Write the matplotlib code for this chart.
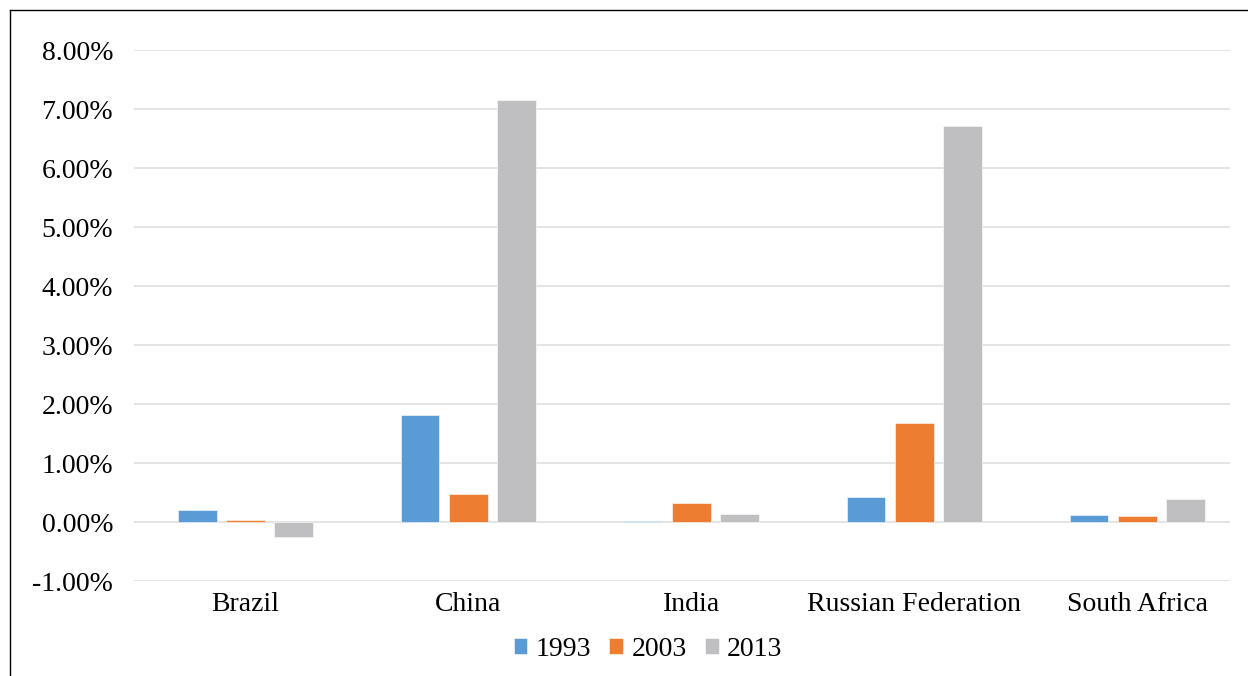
import numpy as np
import matplotlib
matplotlib.use('Agg')
import matplotlib.pyplot as plt
from matplotlib.ticker import FuncFormatter

countries = ['Brazil', 'China', 'India', 'Russian Federation', 'South Africa']
years = ['1993', '2003', '2013']
v1993 = [0.20, 1.82, 0.02, 0.42, 0.12]
v2003 = [0.04, 0.48, 0.32, 1.67, 0.11]
v2013 = [-0.26, 7.15, 0.13, 6.72, 0.39]
colors = ['#5B9BD5', '#ED7D31', '#BFBFC1']

plt.rcParams['font.family'] = ['Liberation Serif', 'DejaVu Serif']

fig = plt.figure(figsize=(12.48, 6.76), dpi=100)
ax = fig.add_axes([134 / 1248, 0.1405, 1096 / 1248, 0.7855])

x = np.arange(len(countries))
w = 0.172
pitch = 0.216
for i, (vals, yr) in enumerate(zip([v1993, v2003, v2013], years)):
    ax.bar(x + (i - 1) * pitch, vals, width=w, color=colors[i], label=yr,
           edgecolor='white', linewidth=0.4, zorder=3)

ax.set_ylim(-1, 8)
ax.set_xlim(-0.5, 4.415)
ax.set_yticks(range(-1, 9))
ax.yaxis.set_major_formatter(FuncFormatter(lambda v, p: '%.2f%%' % v))
ax.set_xticks(x)
ax.set_xticklabels(countries)
ax.tick_params(axis='both', length=0, labelsize=20, colors='black')
ax.tick_params(axis='y', pad=15)
ax.tick_params(axis='x', pad=8)
ax.grid(axis='y', color='#E2E2E2', linewidth=1.3, zorder=0)
for s in ax.spines.values():
    s.set_visible(False)

ax.legend(loc='upper center', bbox_to_anchor=(0.469, -0.058), ncol=3, frameon=False,
          fontsize=20, handlelength=0.5, handleheight=0.5, handletextpad=0.3,
          columnspacing=0.65)

# outer frame (left and top)
fig.add_artist(plt.Line2D([0.008, 0.008], [0, 0.985], color='black', linewidth=1))
fig.add_artist(plt.Line2D([0.008, 1.0], [0.985, 0.985], color='black', linewidth=1))

fig.savefig('out.png', dpi=100)
